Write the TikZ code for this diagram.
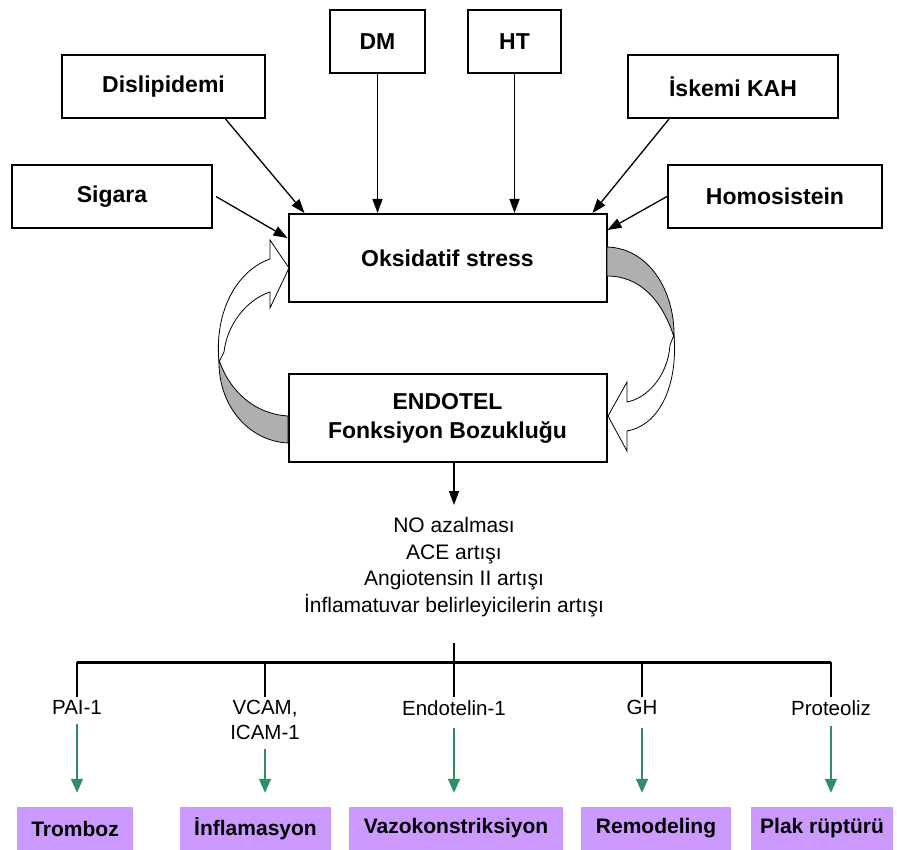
\documentclass[tikz,border=0pt]{standalone}
\usepackage{fontspec}
\setmainfont{Liberation Sans}
\usetikzlibrary{arrows.meta}
\definecolor{lilac}{RGB}{204,153,255}
\definecolor{sgreen}{RGB}{51,140,100}
\definecolor{backgray}{RGB}{175,175,175}
\begin{document}
\begin{tikzpicture}[x=1pt,y=-1pt,
 box/.style={draw=black, line width=2pt, fill=white, inner sep=0pt, font=\fontsize{23}{29}\selectfont\bfseries, align=center},
 res/.style={fill=lilac, inner sep=0pt, minimum height=43pt, font=\fontsize{21}{25}\selectfont\bfseries},
 lab/.style={font=\fontsize{20.5}{25}\selectfont, align=center, inner sep=3pt, anchor=north},
 arr/.style={line width=1.3pt, -{Triangle[length=14pt,width=10pt]}},
 garr/.style={draw=sgreen, line width=1.5pt, -{Triangle[length=14pt,width=12pt]}},
 band/.style={draw=black, line width=0.8pt}]
\useasboundingbox[fill=white] (0,0) rectangle (897,850);

% risk factor boxes
\node[box, minimum width=203pt, minimum height=63pt] (dis) at (163.5,86.5) {Dislipidemi};
\node[box, minimum width=95pt, minimum height=63pt] (dm) at (377.5,41.5) {DM};
\node[box, minimum width=93pt, minimum height=63pt] (ht) at (514.5,41.5) {HT};
\node[box, minimum width=210pt, minimum height=63pt] (isk) at (733,86.5) {İskemi KAH};
\node[box, minimum width=200pt, minimum height=63pt] (sig) at (112,196.5) {Sigara};
\node[box, minimum width=214pt, minimum height=63pt] (hom) at (775,196.5) {Homosistein};

% central boxes
\node[box, minimum width=318pt, minimum height=88pt] (oks) at (447.5,258) {Oksidatif stress};
\node[box, minimum width=318pt, minimum height=88pt] (end) at (447.5,418) {ENDOTEL\\Fonksiyon Bozukluğu};

% arrows into oxidative stress
\draw[arr] ([xshift=62pt]dis.south) -- ([xshift=-143pt]oks.north);
\draw[arr] (dm.south) -- (dm.south |- oks.north);
\draw[arr] (ht.south) -- (ht.south |- oks.north);
\draw[arr] ([xshift=-64pt]isk.south) -- ([xshift=145pt]oks.north);
\draw[arr] ([xshift=3pt]sig.east) -- ([yshift=20pt]oks.west);
\draw[arr] (hom.west) -- ([yshift=28pt]oks.east);

% left curved block arrow (Endotel -> Oksidatif)
\filldraw[band, fill=white] (219,362) .. controls (214,310) and (238,270) .. (270,259)
  -- (270,240) -- (289,268) -- (270,308) -- (270,292)
  .. controls (246,300) and (227,325) .. (224,352) -- cycle;
\filldraw[band, fill=backgray] (288,443) .. controls (248,441) and (218,405) .. (219,360)
  .. controls (230,392) and (255,414) .. (288,416) -- cycle;

% right curved block arrow (Oksidatif -> Endotel)
\filldraw[band, fill=white] (674,335) .. controls (678,385) and (660,425) .. (627,431)
  -- (627,451) -- (608,416) -- (627,382) -- (627,402)
  .. controls (648,398) and (668,375) .. (670,345) -- cycle;
\filldraw[band, fill=backgray] (607,247) .. controls (648,248) and (675,290) .. (674,337)
  .. controls (662,300) and (640,276) .. (607,276) -- cycle;

% consequences text
\node[font=\fontsize{21}{26.7}\selectfont, align=center, inner sep=0pt] (txt) at (454,567)
  {NO azalması\\ACE artışı\\Angiotensin II artışı\\İnflamatuvar belirleyicilerin artışı};
\draw[arr] ([xshift=6.5pt]end.south) -- ([xshift=6.5pt]end.south |- 0,505);

% distribution bar
\coordinate (stemtop) at (454,643);
\coordinate (b1) at (77,662);
\coordinate (b2) at (265,662);
\coordinate (b3) at (454,662);
\coordinate (b4) at (642,662);
\coordinate (b5) at (831,662);
\draw[line width=3pt] (b1) -- (b5);

% mediator labels
\node[lab] (pai) at (77,697) {PAI-1};
\node[lab] (vcam) at (265,697) {VCAM,\\ICAM-1};
\node[lab] (endo) at (454,697) {Endotelin-1};
\node[lab] (gh) at (642,697) {GH};
\node[lab] (prot) at (831,697) {Proteoliz};

\draw[line width=1.5pt] (stemtop) -- (endo.north);
\draw[line width=1.5pt] (b1) -- (pai.north);
\draw[line width=1.5pt] (b2) -- (vcam.north);
\draw[line width=1.5pt] (b4) -- (gh.north);
\draw[line width=1.5pt] (b5) -- (prot.north);

% outcome boxes
\node[res, minimum width=116pt] (trom) at (75,828.5) {Tromboz};
\node[res, minimum width=151pt] (infl) at (255.5,828.5) {İnflamasyon};
\node[res, minimum width=214pt] (vazo) at (456,828.5) {Vazokonstriksiyon};
\node[res, minimum width=150pt] (remo) at (656,828.5) {Remodeling};
\node[res, minimum width=142pt] (plak) at (822,828.5) {Plak rüptürü};

% green arrows
\draw[garr, shorten <=6pt, shorten >=14pt] (pai.south) -- (pai.south |- trom.north);
\draw[garr, shorten <=6pt, shorten >=14pt] (vcam.south) -- (vcam.south |- infl.north);
\draw[garr, shorten <=10pt, shorten >=14pt] (endo.south) -- (endo.south |- vazo.north);
\draw[garr, shorten <=10pt, shorten >=14pt] (gh.south) -- (gh.south |- remo.north);
\draw[garr, shorten <=8pt, shorten >=14pt] (prot.south) -- (prot.south |- plak.north);
\end{tikzpicture}
\end{document}
